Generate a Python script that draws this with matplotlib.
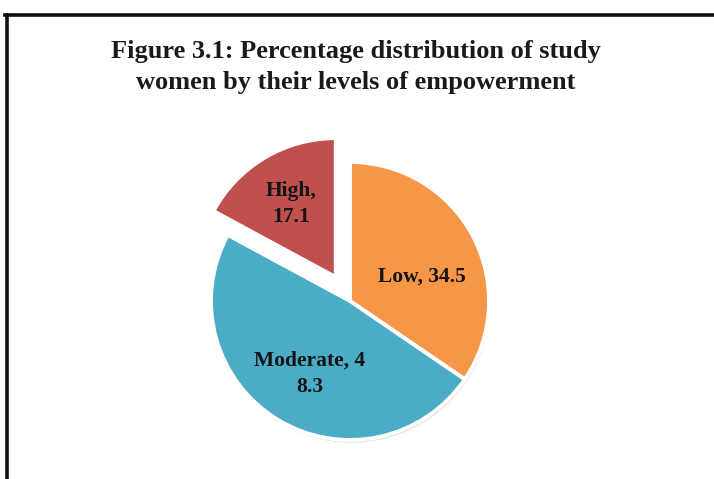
import numpy as np
import matplotlib.pyplot as plt
import matplotlib.patheffects as pe
from matplotlib.lines import Line2D

# empowerment levels (percent of study women)
levels = ["Low", "Moderate", "High"]
shares = [34.5, 48.3, 17.1]
colors = ["#F79646", "#4BACC6", "#C0504D"]
explode = [0.0, 0.0, 0.2]   # fraction of radius
# where each data label wraps onto a second line (None = single line)
wrap_at = [None, 11, 5]

W, H = 714, 479
fig = plt.figure(figsize=(W / 100, H / 100), dpi=100)
ax = fig.add_axes([0, 0, 1, 1])
ax.set_xlim(0, W)
ax.set_ylim(0, H)
ax.set_aspect("equal")
ax.axis("off")

cx, cy, R = 350, H - 301, 139

# pie() takes the explode offset in data units, so scale by radius
wedges, _ = ax.pie(shares, colors=colors, explode=[e * R for e in explode],
                   startangle=90, counterclock=False, radius=R, center=(cx, cy),
                   wedgeprops=dict(edgecolor="white", linewidth=2.8))
ax.set_xlim(0, W)
ax.set_ylim(0, H)

for w in wedges:
    w.set_path_effects([pe.SimplePatchShadow(offset=(1, -2), shadow_rgbFace="0.75", alpha=0.45),
                        pe.Normal()])

# data labels, "name, value"
label_xy = [(422, H - 277), (310, H - 374), (291, H - 204)]
for name, val, brk, (lx, ly) in zip(levels, shares, wrap_at, label_xy):
    s = f"{name}, {val}"
    if brk is not None:
        s = s[:brk].rstrip() + "\n" + s[brk:].lstrip()
    ax.text(lx, ly, s, ha="center", va="center", fontsize=15.5,
            fontweight="bold", family="Liberation Serif", color="#141414",
            linespacing=1.45)

ax.text(356, H - 67, "Figure 3.1: Percentage distribution of study\nwomen by their levels of empowerment",
        ha="center", va="center", fontsize=19, fontweight="bold",
        family="Liberation Serif", color="#1a1a1a", linespacing=1.4)

# page frame (top and left edges)
fig.add_artist(Line2D([5 / W, 1], [1 - 15 / H, 1 - 15 / H], color="#111111", lw=2.6,
                      transform=fig.transFigure))
fig.add_artist(Line2D([7 / W, 7 / W], [0, 1 - 15 / H], color="#111111", lw=2.6,
                      transform=fig.transFigure))

fig.savefig("out.png", dpi=100, facecolor="white")
